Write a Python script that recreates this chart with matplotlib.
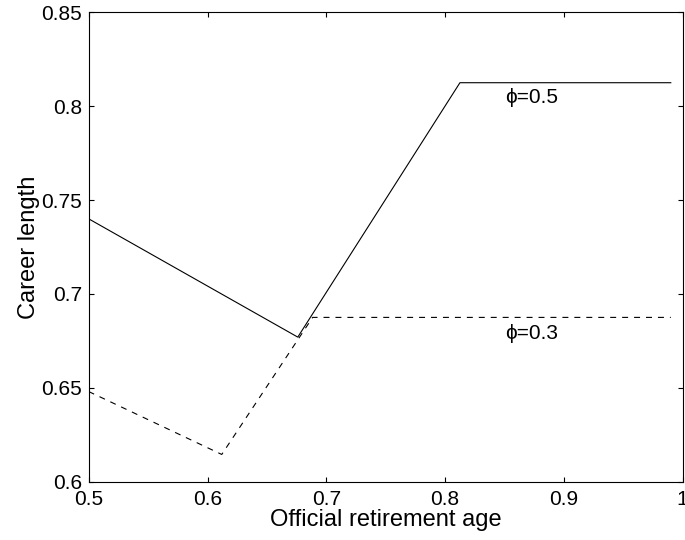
import matplotlib
matplotlib.use('Agg')
import matplotlib.pyplot as plt

# retirement age vs career length, two phi values
phi05_x = [0.5, 0.676, 0.8125, 0.99]
phi05_y = [0.740, 0.677, 0.8125, 0.8125]
phi03_x = [0.5, 0.612, 0.6885, 0.99]
phi03_y = [0.648, 0.6145, 0.6875, 0.6875]

xticks = [0.5, 0.6, 0.7, 0.8, 0.9, 1]
xticklabels = ['0.5', '0.6', '0.7', '0.8', '0.9', '1']
yticks = [0.6, 0.65, 0.7, 0.75, 0.8, 0.85]
yticklabels = ['0.6', '0.65', '0.7', '0.75', '0.8', '0.85']

plt.rcParams['font.family'] = ['Liberation Sans', 'DejaVu Sans']
plt.rcParams['font.size'] = 15
plt.rcParams['lines.scale_dashes'] = False

fig = plt.figure(figsize=(6.85, 5.4), dpi=100)
ax = fig.add_axes([0.1295, 0.108, 0.8671, 0.8692])

ax.plot(phi05_x, phi05_y, color='black', lw=0.8)
ax.plot(phi03_x, phi03_y, color='black', lw=0.8, dashes=(4.3, 4.3))

ax.text(0.8505, 0.8044, '\u03d5=0.5', va='center', ha='left')
ax.text(0.8505, 0.679, '\u03d5=0.3', va='center', ha='left')

ax.set_xlim(0.5, 1)
ax.set_ylim(0.6, 0.85)
ax.set_xticks(xticks)
ax.set_xticklabels(xticklabels)
ax.set_yticks(yticks)
ax.set_yticklabels(yticklabels)
ax.tick_params(direction='in', length=3.6, width=0.8, top=True, right=True)
ax.tick_params(axis='y', pad=4.8)
ax.tick_params(axis='x', pad=6)
for s in ax.spines.values():
    s.set_linewidth(0.8)

ax.set_xlabel('Official retirement age', fontsize=17, labelpad=0)
ax.set_ylabel('Career length', fontsize=17, labelpad=1)

fig.savefig('out.png', dpi=100)
